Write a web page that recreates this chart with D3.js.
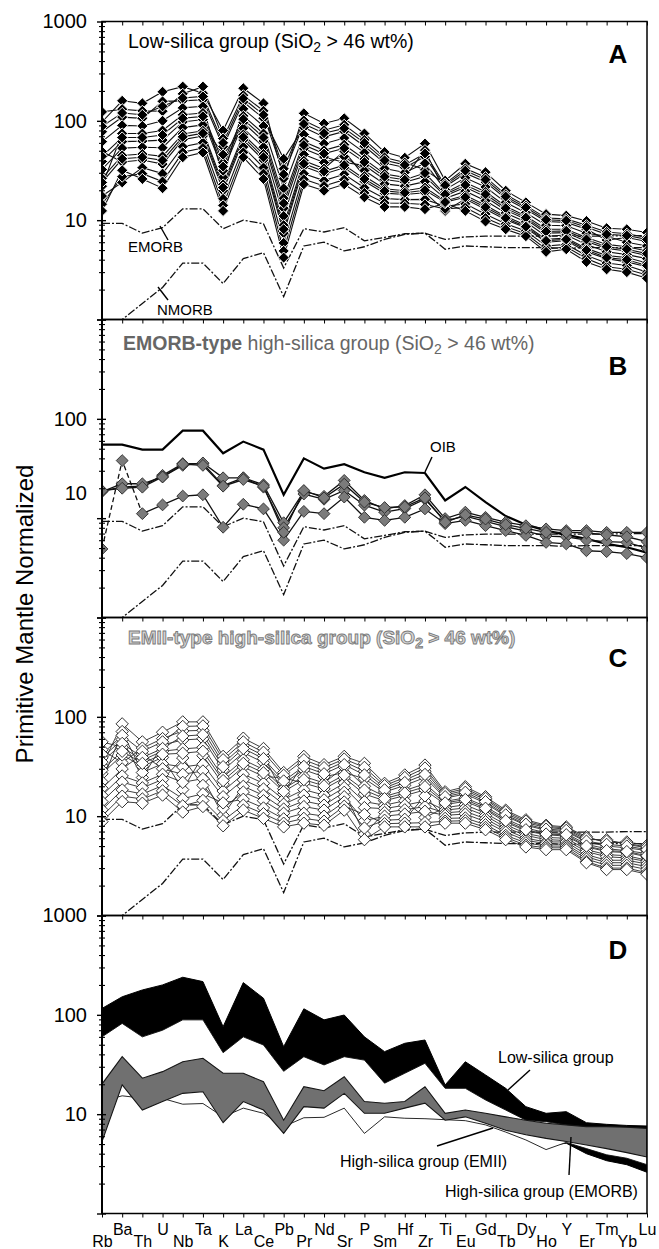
<!DOCTYPE html>
<html>
<head>
<meta charset="utf-8">
<script src="https://cdn.jsdelivr.net/npm/d3@7"></script>
<style>
  body { margin: 0; background: #fff; }
  svg { display: block; font-family: "Liberation Sans", Arial, Helvetica, sans-serif; }
</style>
</head>
<body>
<svg id="chart" width="659" height="1249"></svg>
<script>
// element order on the x axis
const elements = ['Rb','Ba','Th','U','Nb','Ta','K','La','Ce','Pb','Pr','Nd','Sr','P','Sm','Hf','Zr','Ti','Eu','Gd','Tb','Dy','Ho','Y','Er','Tm','Yb','Lu'];

// reference compositions
const emorb = [9.3,9.3,7.4,8.4,13,13,8.2,10,9.2,3.3,8.2,7.6,8.4,6.2,6.7,7.3,7.4,5.1,5.5,5.4,5.3,5.3,5.3,5.2,5.3,5.3,5.3,5.3];
const nmorb = [0.95,1.0,1.45,2.1,3.7,3.7,2.3,4.1,4.7,1.7,5.5,6.0,4.9,5.4,6.4,7.2,7.4,6.4,6.8,6.9,6.9,6.9,6.9,6.9,6.9,6.9,7.0,7.0];
const oib = [55,55,49,49,76,76,45,59,49,17.2,40,31.5,35,29,25.5,29,28.5,15.1,20.6,14.5,10.5,8.6,7.5,6.8,6.2,5.5,5.1,4.5];

// panel A: low-silica group samples
const lowSilica = [
  [97.5,159,150,196,221,190,80,213,150,26.2,119,94,106,74.5,48.5,42.5,59,25,37,30.4,19.8,15.1,11.5,11.1,9.8,8.3,8.1,7.5],
  [123,131,126,125,187,221,66.4,181,126,33,101,80.4,91.2,64.3,42.8,38,32.1,23.3,33.2,27.1,18.1,14,10.5,10.3,8.9,7.6,7.3,6.7],
  [77.6,109,106,157,159,163,55.1,155,106,41.5,85.7,68.9,78.2,55.5,37.7,33.9,43.6,21.7,29.7,24.2,16.5,12.9,9.7,9.5,8.1,6.3,6.7,6.1],
  [61.7,90,88.7,100,135,140,27.1,132,88.7,20.9,72.8,58.9,67.1,47.8,33.1,30.2,37.4,20.3,26.7,21.6,15.1,11.9,8.9,8.8,7.4,6.9,6.0,5.5],
  [22,74.6,74.5,80,115,120,37.9,112,74.5,16.6,61.7,50.5,57.5,41.2,29.2,27,50.7,18.9,23.9,19.3,13.8,11,8.1,8.1,6.7,5.7,5.4,4.9],
  [39,61.8,62.5,64,97.5,103,31.5,95.7,62.5,13.2,52.4,43.2,38.1,35.6,25.7,24.1,27.6,17.6,21.4,17.2,12.6,10.2,7.4,7.5,6.1,5.2,4.9,4.4],
  [32.4,53.1,54.3,53.6,85.5,91,45.7,84.1,54.3,11,45.9,38.1,43.7,31.6,23.2,22,24.4,16.6,19.6,15.7,11.8,9.6,6.9,7.1,5.7,4.8,4.5,4.1],
  [26.4,44.8,46.3,43.9,73.8,79.4,22.9,72.8,46.3,8.9,39.6,33.1,49.4,27.7,20.7,19.8,21.3,15.6,17.8,14.1,10.9,8.9,6.4,6.6,5.2,4.4,4.2,3.7],
  [49.1,38.5,40.3,36.7,64.7,70.3,19.8,64.1,40.3,7.4,34.8,29.2,33.7,24.6,18.7,18.1,18.9,12.4,16.3,12.9,10.1,8.4,6.0,6.2,4.8,4.1,3.8,3.4],
  [17.5,24,33.8,29.4,55,60.3,16.4,54.6,33.8,5.9,29.4,25,29,21.2,16.5,16.1,16.2,13.8,14.6,11.5,9.2,7.8,5.5,5.7,4.4,3.7,3.5,3.0],
  [14.5,27.4,29.4,24.5,48.2,53.3,14.1,48.1,29.4,4.9,25.8,22.1,25.6,18.8,14.9,14.8,14.4,13,13.4,10.5,8.6,7.3,5.1,5.4,4.1,3.4,3.2,2.8],
  [12.4,31.8,26,21,43,48,12.4,43,26,4.2,23,19.8,23,17,13.6,13.6,12.9,14.8,12.4,9.7,8.1,6.9,4.8,5.1,3.8,3.2,3.0,2.6],
  [88,120,115,140,170,176,60,168,115,29,93,75,84,60,40,36,47,22.5,31.5,25.6,17.3,13.4,10.1,9.9,8.5,7.2,7.0,6.4],
  [44,68,68,72,106,111,34.6,104,68,14.8,57,46.8,53,38.4,27.4,25.5,29.8,18.2,22.6,18.2,13.2,10.6,7.7,7.8,6.4,5.4,5.1,4.6],
  [24,41.5,43,40,69,75,21.3,68.4,43,8.1,37,31,35.8,26,19.7,18.9,20,15.2,17,13.5,10.5,8.6,6.2,6.4,5.0,4.2,4.0,3.5]
];

// panel B: EMORB-type high-silica group samples
const emorbType = [
  [18.7,20.6,21,27,35.4,35.4,21.3,25.5,21.7,9.0,18.6,16.6,24,15.1,12.4,13.4,17.2,9.9,11.5,10.2,9.1,8.4,7.8,7.5,7.5,7.2,7.2,7.2],
  [18.5,22.2,22.2,26,34,36,25.5,25.5,20.5,8.0,17.5,15.5,19,13.5,11.5,12.5,15.5,9.4,10.5,9.3,8.2,7.4,6.6,6.5,6.0,5.8,5.7,5.0],
  [4.9,38,11.1,13.6,16.7,17.2,8.1,13.8,12.4,6.0,11.7,11.1,16.3,10.2,9.5,10.2,12.4,8.8,9.5,8.4,7.5,6.7,5.7,5.5,4.7,4.6,4.4,4.0],
  [18.9,20,20.5,26,35,34,21,24.5,21,7.2,19,16,22,14.5,12.8,13,16,9.1,10.8,9.8,8.6,7.9,7.2,7.2,7.1,6.8,6.5,5.8]
];
// the third sample is joined by a dashed line between its first three points
const dashedLead = 2;

// panel C: EMII-type high-silica group samples
const emiiType = [
  [32.1,85,56,70,89,89,40,61,48,27.5,40,33,40,34,21.4,26,32.7,17.6,19.8,15.7,11.5,9.2,8.1,7.8,6.2,5.4,5.5,5.1],
  [46.6,34.5,48.5,60.4,72.1,73.1,34,51.6,40.8,16.6,34.3,28.6,35.3,28.4,19.3,23.1,28.3,16.3,18.2,14.6,10.7,8.6,7.7,7.4,5.8,5.8,5.2,4.8],
  [38.6,59.3,24.5,52.2,58.5,60.1,29,43.6,34.7,21.4,29.3,24.9,27.5,23.8,17.5,20.4,24.5,15.2,16.7,13.5,10,8.1,7.2,7,5.5,5,4.8,4.5],
  [56,49.5,36.6,45.1,47.5,49.3,24.7,37,29.5,18.9,25.1,21.6,31.2,20,15.8,18.1,21.2,14.1,15.3,12.5,9.4,7.6,6.8,6.7,5.2,4.7,4.5,4.2],
  [26.7,41.3,31.7,39,18.5,40.6,21,31.3,25.1,24.3,21.5,18.8,24.3,16.7,14.3,16.1,18.4,13.1,14.1,11.6,8.7,7.1,6.5,6.3,4.9,4.4,4.3,3.9],
  [22.2,71.1,27.5,33.7,31.3,33.3,17.9,26.5,21.4,14.7,18.5,16.3,21.5,14,12.9,14.3,9.7,12.2,13,10.7,8.2,6.7,6.1,6,4.6,4.1,4,3.6],
  [19.1,29.9,42.1,30,26.4,28.5,15.7,23.2,18.8,13.2,16.3,14.6,19.4,12.2,11.9,12.9,14.2,11.5,12.1,10.1,7.7,6.4,5.8,5.7,4.4,3.9,3.8,3.5],
  [16.2,25.4,21.6,26.4,21.9,23.9,10.2,20,16.2,11.8,14.2,12.9,17.4,6.6,10.9,11.6,12.5,10.8,11.2,9.4,7.3,6,5.5,5.5,4.1,3.6,3.6,3.3],
  [14,22,19.3,23.4,38.5,20.4,12,17.5,14.3,10.7,12.5,11.5,15.7,9,10,10.5,11.2,10.2,10.5,8.8,6.9,5.7,5.3,5.2,3.9,3.4,3.4,3.1],
  [11.6,18.4,16.7,20.3,15,16.8,13.6,14.8,12.1,9.4,10.7,10,13.9,7.6,9.1,9.3,16,9.5,9.6,8.2,6.4,5.4,5,5,3.7,3.2,3.2,2.9],
  [10,15.9,14.9,18,12.7,14.4,9,12.9,10.6,8.5,9.5,8.9,12.6,10.4,8.4,8.5,8.6,8.9,9,7.7,6.1,5.1,4.8,4.8,3.5,3,3,2.7],
  [8.8,14,13.5,16.3,11,12.5,8,11.5,9.5,7.8,8.5,8.1,11.5,5.8,7.8,7.8,7.8,8.5,8.5,7.3,5.8,4.9,4.6,4.6,3.4,2.9,2.9,2.6],
  [42,65,45,56,80,81,37,56,44,25.8,37,30.8,37.6,31,20.3,24.5,30.5,16.9,19,15.1,11.1,8.9,7.9,7.6,6,5.6,5.3,4.9],
  [35,54,39,48,64,66,31.5,48,38,22.6,31.7,26.7,33,26,18.4,21.8,26.3,15.7,17.4,14,10.3,8.3,7.4,7.2,5.6,5.2,5,4.6],
  [29,45,34,42,43,45,22.8,34,27.3,17.7,23.3,20.2,25.9,18.3,15,17.1,19.8,13.6,14.7,12,9,7.3,6.6,6.5,5,4.5,4.4,4.0]
];

// panel D: group ranges (upper / lower edge of each band)
const lowSilicaTop    = [116,152,178,200,239,216,76,211,147,47.8,115,89,99.6,60,42.6,51.7,55.8,19.7,33.7,24.8,18.2,11.9,10.2,10.6,8.2,7.9,7.7,7.6];
const lowSilicaBottom = [12,24,26,21,43,48,12.4,43,26,6.5,23,19.8,23,17,13.6,13.6,12.9,12.4,12.4,9.7,8.1,6.9,4.8,5.1,4.0,3.4,3.1,2.6];
const emiiTop         = [60,82,60,70,89,89,41.6,60,49.7,27,37.9,31.3,37.9,35,20.5,25.8,32.5,18.2,18.2,13.9,11,8.7,8.4,7.8,6.2,5.8,5.5,5.1];
const emiiBottom      = [13.5,15.3,14.5,14.4,12.6,12.8,9.4,11.5,10.2,7.5,9.2,9.3,11.5,6.4,9.4,9.1,9.0,8.8,8.6,7.8,6.6,5.5,4.4,5.2,4.5,3.9,3.6,3.1];
const emorbTypeTop    = [20.1,37.9,23,26.8,33.7,36.5,25.8,25.8,21.2,8.7,18.9,17.2,23.8,13.4,12.9,13.4,18.9,10.2,11,10.2,9.4,8.7,8.1,7.8,7.5,7.5,7.4,7.2];
const emorbTypeBottom = [5.3,19.7,11,13.4,16.2,16.8,8.2,13.4,11,6.4,11.9,11.5,16.2,10.2,10.2,11.5,12.9,8.7,9.4,8.1,6.9,6.2,5.7,5.3,4.9,4.5,4.1,3.7];

const yLabels = { A: [10, 100, 1000], B: [10, 100], C: [10, 100], D: [10, 100, 1000] };

const svg = d3.select('#chart');
const plotLeft = 102, plotRight = 647, plotTop = 21.5, panelH = 298;

const x = d3.scalePoint().domain(elements).range([plotLeft, plotRight]);

const panels = ['A', 'B', 'C', 'D'].map((key, i) => {
  const y0 = plotTop + i * panelH;
  return { key, y0, y1: y0 + panelH, y: d3.scaleLog().domain([1, 1000]).range([y0 + panelH, y0]) };
});

// diamond marker (square turned 45 degrees)
const diamondType = {
  draw(ctx, size) {
    const r = Math.sqrt(size / 2);
    ctx.moveTo(0, -r); ctx.lineTo(r, 0); ctx.lineTo(0, r); ctx.lineTo(-r, 0); ctx.closePath();
  }
};
const diamond = d3.symbol().type(diamondType);

const defs = svg.append('defs');
panels.forEach(p => {
  defs.append('clipPath').attr('id', 'clip' + p.key)
    .append('rect').attr('x', plotLeft).attr('y', p.y0).attr('width', plotRight - plotLeft).attr('height', panelH);
});

function lineFor(y) {
  return d3.line().x((d, i) => x(elements[i])).y(d => y(d));
}

function drawRefs(g, p) {
  const line = lineFor(p.y);
  g.append('path').attr('d', line(emorb)).attr('fill', 'none')
    .attr('stroke', '#111').attr('stroke-width', 1.3).attr('stroke-dasharray', '8,2,2,2');
  g.append('path').attr('d', line(nmorb)).attr('fill', 'none')
    .attr('stroke', '#111').attr('stroke-width', 1.3).attr('stroke-dasharray', '8,2,2,2');
}

function drawSamples(g, p, series, lineStyle, dotStyle) {
  const line = lineFor(p.y);
  g.append('g').selectAll('path').data(series).join('path')
    .attr('d', d => line(d)).attr('fill', 'none')
    .attr('stroke', lineStyle.stroke).attr('stroke-width', lineStyle.width);
  const pts = series.flatMap(s => s.map((v, i) => ({ el: elements[i], v })));
  g.append('g').selectAll('path').data(pts).join('path')
    .attr('d', diamond.size(dotStyle.size)())
    .attr('transform', d => `translate(${x(d.el)},${p.y(d.v)})`)
    .attr('fill', dotStyle.fill).attr('stroke', dotStyle.stroke).attr('stroke-width', dotStyle.width);
}

// ---------- panel content ----------
const [pA, pB, pC, pD] = panels;

const gA = svg.append('g').attr('clip-path', 'url(#clipA)');
drawRefs(gA, pA);
drawSamples(gA, pA, lowSilica, { stroke: '#111', width: 1.1 }, { size: 62, fill: '#000', stroke: '#fff', width: 1 });

const gB = svg.append('g').attr('clip-path', 'url(#clipB)');
drawRefs(gB, pB);
gB.append('path').attr('d', lineFor(pB.y)(oib)).attr('fill', 'none').attr('stroke', '#000').attr('stroke-width', 2.2);
{
  const solid = emorbType.map((s, k) => k === 2 ? s.map((v, i) => i < dashedLead ? null : v) : s);
  const lineDef = lineFor(pB.y).defined(d => d !== null);
  gB.append('g').selectAll('path').data(solid).join('path')
    .attr('d', d => lineDef(d)).attr('fill', 'none').attr('stroke', '#111').attr('stroke-width', 1.3);
  gB.append('path').attr('d', lineFor(pB.y)(emorbType[2].slice(0, dashedLead + 1)))
    .attr('fill', 'none').attr('stroke', '#111').attr('stroke-width', 1.3).attr('stroke-dasharray', '5,3');
  const pts = emorbType.flatMap(s => s.map((v, i) => ({ el: elements[i], v })));
  gB.append('g').selectAll('path').data(pts).join('path')
    .attr('d', diamond.size(70)())
    .attr('transform', d => `translate(${x(d.el)},${pB.y(d.v)})`)
    .attr('fill', '#7b7b7b').attr('stroke', '#2a2a2a').attr('stroke-width', 0.9);
}

const gC = svg.append('g').attr('clip-path', 'url(#clipC)');
drawRefs(gC, pC);
drawSamples(gC, pC, emiiType, { stroke: '#2a2a2a', width: 0.9 }, { size: 76, fill: '#fff', stroke: '#1a1a1a', width: 0.9 });

const gD = svg.append('g').attr('clip-path', 'url(#clipD)');
function band(hi, lo) {
  return d3.area().x((d, i) => x(elements[i])).y0((d, i) => pD.y(lo[i])).y1((d, i) => pD.y(hi[i]))(elements);
}
gD.append('path').attr('d', band(lowSilicaTop, lowSilicaBottom)).attr('fill', '#000').attr('stroke', '#000').attr('stroke-width', 1);
gD.append('path').attr('d', band(emiiTop, emiiBottom)).attr('fill', '#fff').attr('stroke', '#111').attr('stroke-width', 0.9);
gD.append('path').attr('d', band(emorbTypeTop, emorbTypeBottom)).attr('fill', '#707070').attr('stroke', '#151515').attr('stroke-width', 1.1);

// ---------- axes and frames ----------
const minors = [];
[1, 10, 100].forEach(dec => { for (let k = 2; k <= 9; k++) minors.push(k * dec); });

panels.forEach(p => {
  const labels = yLabels[p.key];
  const major = svg.append('g').attr('transform', `translate(${plotLeft + 4},0)`)
    .call(d3.axisLeft(p.y).tickValues([1, 10, 100, 1000]).tickSize(9).tickPadding(10)
      .tickFormat(d => labels.includes(d) ? d3.format('d')(d) : ''));
  major.select('.domain').remove();
  major.selectAll('line').attr('stroke-width', 1.4);
  major.selectAll('text').attr('font-size', 20).attr('fill', '#000')
    .attr('font-family', '"Liberation Sans", Arial, sans-serif');
  if (p.key === 'B') {
    // the original figure prints the "10" of panel B a little above its tick
    major.selectAll('.tick').filter(d => d === 10).select('text').attr('y', -25);
  }
  const minor = svg.append('g').attr('transform', `translate(${plotLeft + 3},0)`)
    .call(d3.axisLeft(p.y).tickValues(minors).tickSize(6).tickFormat(''));
  minor.select('.domain').remove();
  minor.selectAll('line').attr('stroke-width', 1.1);

  const topTicks = svg.append('g').attr('transform', `translate(0,${p.y0})`)
    .call(d3.axisTop(x).tickSize(-4).tickFormat(''));
  topTicks.select('.domain').remove();
  topTicks.selectAll('line').attr('stroke-width', 1);

  svg.append('rect').attr('x', plotLeft).attr('y', p.y0).attr('width', plotRight - plotLeft).attr('height', panelH)
    .attr('fill', 'none').attr('stroke', '#000').attr('stroke-width', 1.5);
});
svg.append('line').attr('x1', plotLeft).attr('x2', plotLeft).attr('y1', plotTop).attr('y2', plotTop + 4 * panelH)
  .attr('stroke', '#000').attr('stroke-width', 2);

const bottomAxis = svg.append('g').attr('transform', `translate(0,${pD.y1})`)
  .call(d3.axisBottom(x).tickSize(4));
bottomAxis.select('.domain').remove();
bottomAxis.selectAll('text')
  .attr('font-size', 16).attr('fill', '#000').attr('font-family', '"Liberation Sans", Arial, sans-serif')
  .attr('dy', 0).attr('y', (d, i) => i % 2 ? 21.5 : 33.5);

// ---------- text ----------
svg.append('text').attr('transform', 'translate(33,614) rotate(-90)').attr('text-anchor', 'middle')
  .attr('font-size', 24).text('Primitive Mantle Normalized');

function sio2Title(t, parts, style) {
  parts.forEach(pt => {
    const ts = t.append('tspan').text(pt.text);
    if (pt.bold) ts.attr('font-weight', 'bold');
  });
  t.append('tspan').text('SiO');
  t.append('tspan').attr('font-size', 14).attr('dy', 4).text('2');
  t.append('tspan').attr('dy', -4).text(' > 46 wt%)');
  Object.entries(style).forEach(([k, v]) => t.attr(k, v));
}
sio2Title(svg.append('text').attr('x', 128).attr('y', pA.y0 + 26.5).attr('font-size', 19.5),
  [{ text: 'Low-silica group (' }], { fill: '#000' });
sio2Title(svg.append('text').attr('x', 123).attr('y', pB.y0 + 30.5).attr('font-size', 19.5),
  [{ text: 'EMORB-type', bold: true }, { text: ' high-silica group (' }], { fill: '#666' });
sio2Title(svg.append('text').attr('x', 128).attr('y', pC.y0 + 26.5).attr('font-size', 19).attr('font-weight', 'bold'),
  [{ text: 'EMII-type high-silica group (' }], { fill: '#d4d4d4', stroke: '#7a7a7a', 'stroke-width': 0.9 });

const letterY = { A: 41.5, B: 55.5, C: 49.5, D: 43.5 };
panels.forEach(p => {
  svg.append('text').attr('x', 618).attr('y', p.y0 + letterY[p.key]).attr('text-anchor', 'middle')
    .attr('font-size', 26).attr('font-weight', 'bold').text(p.key);
});

// annotations with leader lines
const notes = [
  { text: 'EMORB', x: 128, y: 252, size: 15, leader: [168, 240, 160, 226] },
  { text: 'NMORB', x: 157, y: 315, size: 15, leader: [168, 300, 158, 287] },
  { text: 'OIB', x: 430, y: 452, size: 15, leader: [432, 457, 425, 472] },
  { text: 'Low-silica group', x: 498, y: 1063, size: 16, leader: [530, 1070, 508, 1090] },
  { text: 'High-silica group (EMII)', x: 340, y: 1167, size: 16, leader: [437, 1146, 493, 1128] },
  { text: 'High-silica group (EMORB)', x: 445, y: 1197, size: 16, leader: [569, 1175, 571, 1137] }
];
notes.forEach(n => {
  svg.append('text').attr('x', n.x).attr('y', n.y).attr('font-size', n.size).text(n.text);
  svg.append('line').attr('x1', n.leader[0]).attr('y1', n.leader[1]).attr('x2', n.leader[2]).attr('y2', n.leader[3])
    .attr('stroke', '#000').attr('stroke-width', 1.4);
});
</script>
</body>
</html>
